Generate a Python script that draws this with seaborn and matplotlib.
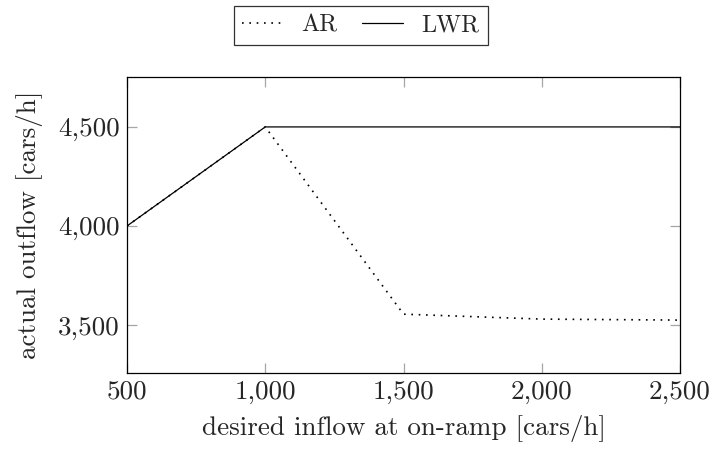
import numpy as np
import pandas as pd
import matplotlib
matplotlib.use('Agg')
import matplotlib.pyplot as plt
import seaborn as sns
from matplotlib.ticker import FuncFormatter

# Data
inflow = [500, 1000, 1500, 2000, 2500]
ar_outflow = [4000, 4500, 3555, 3530, 3525]
lwr_outflow = [4000, 4500, 4500, 4500, 4500]

x_ticks = [500, 1000, 1500, 2000, 2500]
y_ticks = [3500, 4000, 4500]

sns.set_theme(style='white')
plt.rcParams['font.family'] = ['cmr10', 'DejaVu Serif']
plt.rcParams['axes.formatter.use_mathtext'] = True
plt.rcParams['mathtext.fontset'] = 'cm'

FS = 19.5
LEG_FS = 17.5

fig = plt.figure(figsize=(7.12, 4.51), dpi=100)
ax = fig.add_axes([127 / 712, 78 / 451, 553 / 712, 296 / 451])

df = pd.DataFrame({'inflow': inflow, 'AR': ar_outflow, 'LWR': lwr_outflow})

# AR (dotted) and LWR (solid)
sns.lineplot(data=df, x='inflow', y='AR', ax=ax, color='black',
             linewidth=1.2, linestyle=(0, (1, 3.4)), label='AR')
sns.lineplot(data=df, x='inflow', y='LWR', ax=ax, color='black',
             linewidth=0.9, label='LWR')

ax.set_xlim(500, 2500)
ax.set_ylim(3258, 4752)
ax.set_xticks(x_ticks)
ax.set_yticks(y_ticks)

fmt = FuncFormatter(lambda v, p: f'{int(v):,}')
ax.xaxis.set_major_formatter(fmt)
ax.yaxis.set_major_formatter(fmt)

ax.tick_params(axis='both', which='major', direction='in', length=7.5,
               width=0.9, color='0.65', labelsize=FS, pad=5,
               top=True, right=True, bottom=True, left=True)

for s in ax.spines.values():
    s.set_color('black')
    s.set_linewidth(0.9)

ax.set_xlabel('desired inflow at on-ramp [cars/h]', fontsize=FS, labelpad=8)
ax.set_ylabel('actual outflow [cars/h]', fontsize=FS, labelpad=11)

leg = ax.legend(loc='center', bbox_to_anchor=(0.423, 1.174), ncol=2,
                frameon=True, fancybox=False, fontsize=LEG_FS, handlelength=1.7,
                handletextpad=0.75, columnspacing=1.0, borderpad=0.35,
                borderaxespad=0, edgecolor='black')
leg.get_frame().set_linewidth(0.9)

fig.savefig('out.png', dpi=100)
